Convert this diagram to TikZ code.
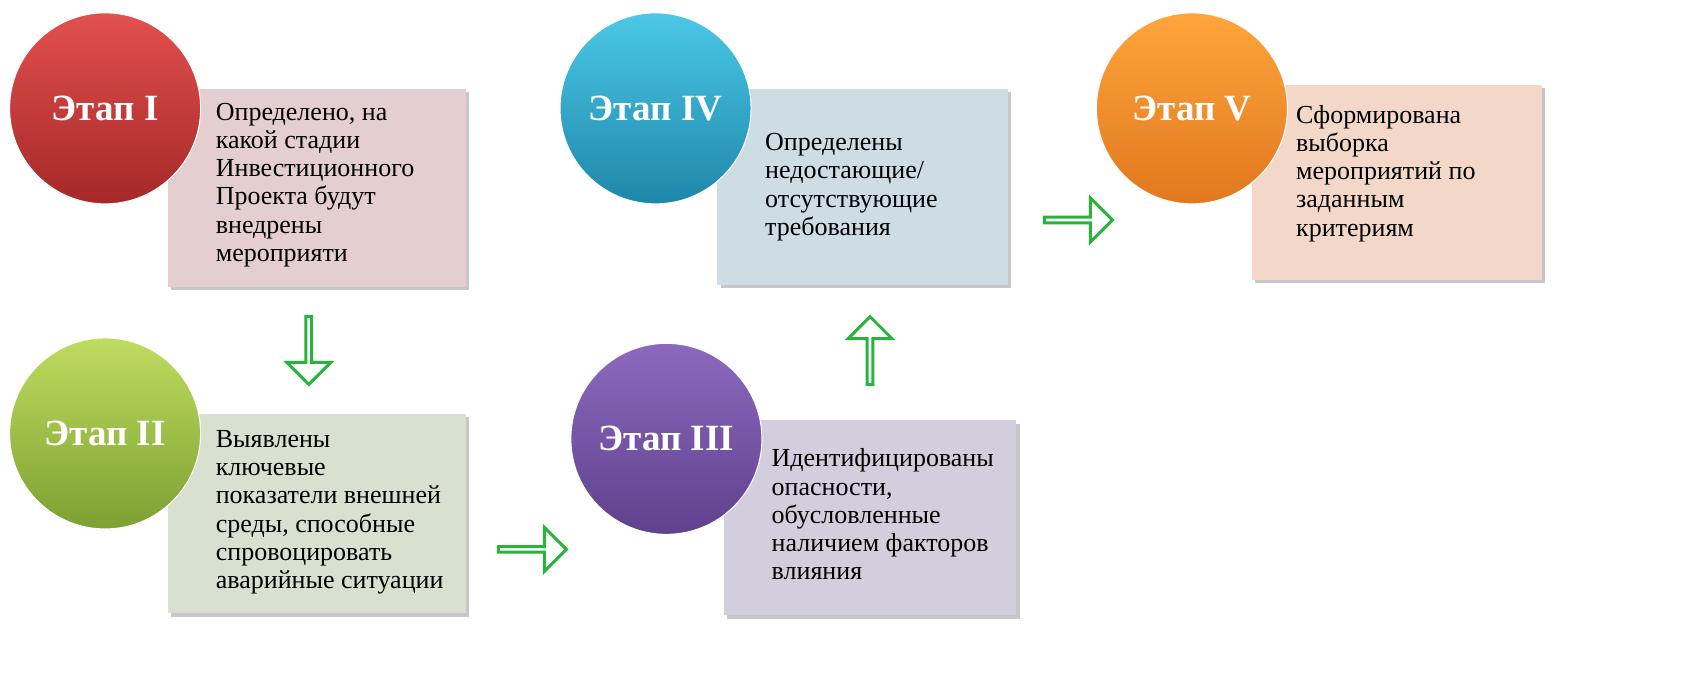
\documentclass[tikz,border=0pt]{standalone}
\usepackage{fontspec}
\setmainfont{Liberation Serif}
\usetikzlibrary{shapes.arrows}
\begin{document}
\begin{tikzpicture}[x=1.0835pt,y=-1.0835pt,
  txt/.style={anchor=north west,align=left,font=\fontsize{26}{28.2}\selectfont,inner sep=0pt},
  stage/.style={circle,minimum size=191pt,draw=white,line width=1pt,text=white,font=\bfseries\fontsize{37}{40}\selectfont},
  garrow/.style={single arrow,draw={rgb,255:red,40;green,180;blue,60},fill=white,line width=3pt,minimum height=68pt,minimum width=44pt,single arrow head extend=10pt,inner sep=0pt}]
\useasboundingbox (0,0) rectangle (1568,643);
% boxes
\fill[fill=black!22] (158,85) rectangle (433,268);
\fill[fill={rgb,255:red,228;green,206;blue,207}] (155,82) rectangle (430,265);
\fill[fill=black!22] (158,385) rectangle (433,569);
\fill[fill={rgb,255:red,216;green,225;blue,207}] (155,382) rectangle (430,566);
\fill[fill=black!22] (671,391) rectangle (941,571);
\fill[fill={rgb,255:red,211;green,206;blue,221}] (668,388) rectangle (938,568);
\fill[fill=black!22] (665,85) rectangle (933,266);
\fill[fill={rgb,255:red,206;green,221;blue,228}] (662,82) rectangle (930,263);
\fill[fill=black!22] (1158,81) rectangle (1426,261);
\fill[fill={rgb,255:red,243;green,216;blue,201}] (1155,78) rectangle (1423,258);
% texts
\node[txt] (t1) at (199,95) {Определено, на\\какой стадии\\Инвестиционного\\Проекта будут\\внедрены\\мероприяти};
\node[txt] (t2) at (199,397) {Выявлены\\ключевые\\показатели внешней\\среды, способные\\спровоцировать\\аварийные ситуации};
\node[txt] (t3) at (712,414) {Идентифицированы\\опасности,\\обусловленные\\наличием факторов\\влияния};
\node[txt] (t4) at (706,123) {Определены\\недостающие/\\отсутствующие\\требования};
\node[txt] (t5) at (1196,97) {Сформирована\\выборка\\мероприятий по\\заданным\\критериям};
% circles
\node[stage,top color={rgb,255:red,226;green,80;blue,78},bottom color={rgb,255:red,165;green,40;blue,40}] (c1) at (97,100) {Этап I};
\node[stage,top color={rgb,255:red,190;green,220;blue,95},bottom color={rgb,255:red,125;green,160;blue,50}] (c2) at (97,400) {Этап II};
\node[stage,top color={rgb,255:red,140;green,105;blue,190},bottom color={rgb,255:red,95;green,65;blue,140}] (c3) at (615,405) {Этап III};
\node[stage,top color={rgb,255:red,75;green,200;blue,230},bottom color={rgb,255:red,30;green,135;blue,170}] (c4) at (605,100) {Этап IV};
\node[stage,top color={rgb,255:red,255;green,165;blue,60},bottom color={rgb,255:red,225;green,120;blue,30}] (c5) at (1100,100) {Этап V};
% arrows
\node[garrow,rotate=-90] (a1) at (285,322) {};
\node[garrow] (a2) at (490,507) {};
\node[garrow,rotate=90] (a3) at (803,325) {};
\node[garrow] (a4) at (994,203) {};
\end{tikzpicture}
\end{document}
